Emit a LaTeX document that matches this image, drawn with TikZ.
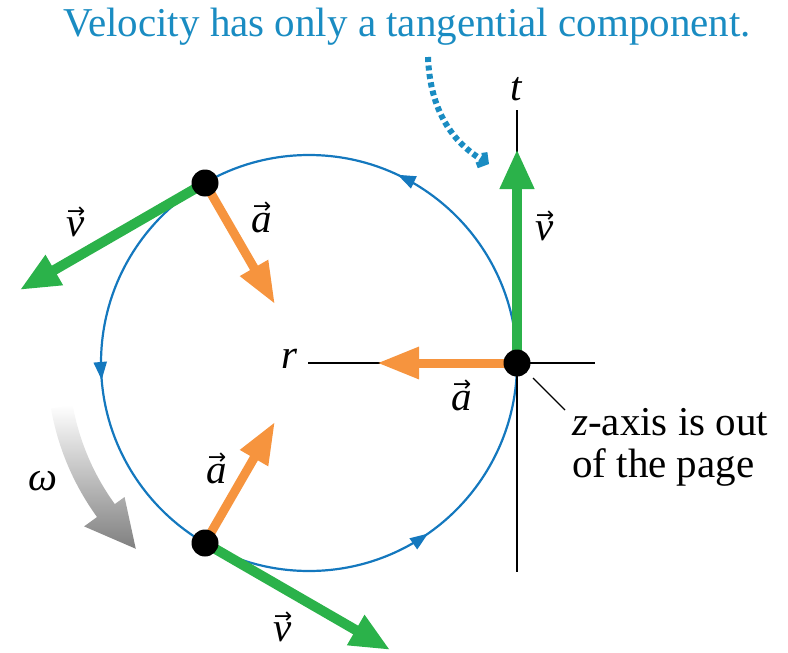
\RequirePackage{fix-cm}
\documentclass[tikz,border=0pt]{standalone}
\usepackage{fontspec}
\setmainfont{Liberation Serif}
\newfontfamily\arrowfont{DejaVu Sans}
\usetikzlibrary{arrows.meta,decorations.markings,calc}
\definecolor{cblue}{HTML}{1478BE}
\definecolor{tblue}{HTML}{1A8CC2}
\definecolor{vgreen}{HTML}{2BB24A}
\definecolor{aorange}{HTML}{F6943E}
\newcommand{\vlab}[1]{\leavevmode\vbox{\offinterlineskip\halign{\hfil##\hfil\cr
  {\arrowfont\fontsize{22}{22}\selectfont →}\cr\noalign{\kern-1pt}\textit{#1}\cr}}}
\begin{document}
\begin{tikzpicture}[x=1pt,y=-1pt,
 lab/.style={font=\fontsize{41}{45}\selectfont, inner sep=0pt, anchor=base},
 vvec/.style={draw=vgreen, line width=10pt, -{Triangle[length=40pt,width=32pt]}},
 avec/.style={draw=aorange, line width=9pt, -{Triangle[length=42pt,width=30pt]}},
 dot/.style={circle, fill=black, minimum size=27pt, inner sep=0pt},
 axisline/.style={draw=black, line width=1.8pt},
 midarrow/.style={postaction={decorate}, decoration={markings,
   mark=at position 0.18 with {\arrow{Triangle[length=18pt,width=13pt]}},
   mark=at position 0.513 with {\arrow{Triangle[length=18pt,width=13pt]}},
   mark=at position 0.847 with {\arrow{Triangle[length=18pt,width=13pt]}}}},
]
\useasboundingbox (0,0) rectangle (788,653);
% omega arrow
\coordinate (C) at (309,363);
\shade[top color=white, bottom color=black!50]
  ([shift={(C)}]170:262) arc[start angle=170,end angle=144,radius=262]
  -- ([shift={(C)}]144:278) -- ([shift={(C)}]133:254) -- ([shift={(C)}]144:228)
  -- ([shift={(C)}]144:240) arc[start angle=144,end angle=170,radius=240] -- cycle;
\node[lab] (om) at (43,490) {\textit{ω}};
% circle
\draw[cblue, line width=2.2pt, midarrow] (517,363) arc[start angle=360,end angle=0,radius=208];
% axes
\coordinate (rl) at (308,363); \coordinate (rr) at (595,363);
\coordinate (tt) at (517,110); \coordinate (tb) at (517,572);
\draw[axisline] (rl) -- (rr);
\draw[axisline] (tt) -- (tb);
\node[lab] (rlab) at (290,368) {\textit{r}};
\node[lab] (tlab) at (517,100) {\textit{t}};
% points
\coordinate (P1) at (517,363);
\coordinate (P2) at (205,183);
\coordinate (P3) at (205,543);
\coordinate (v1) at ($(P1)+(270:214)$);
\coordinate (v2) at ($(P2)+(150:214)$);
\coordinate (v3) at ($(P3)+(30:214)$);
\coordinate (a1) at ($(P1)+(180:140)$);
\coordinate (a2) at ($(P2)+(60:140)$);
\coordinate (a3) at ($(P3)+(-60:140)$);
\draw[vvec] (P1) -- (v1);
\draw[vvec] (P2) -- (v2);
\draw[vvec] (P3) -- (v3);
\draw[avec] (P1) -- (a1);
\draw[avec] (P2) -- (a2);
\draw[avec] (P3) -- (a3);
\node[dot] (d1) at (P1) {};
\node[dot] (d2) at (P2) {};
\node[dot] (d3) at (P3) {};
% vector labels
\node[lab] (vl1) at (545,240) {\vlab{v}};
\node[lab] (vl2) at (76,236) {\vlab{v}};
\node[lab] (vl3) at (283,641) {\vlab{v}};
\node[lab] (al1) at (262,232) {\vlab{a}};
\node[lab] (al2) at (462,410) {\vlab{a}};
\node[lab] (al3) at (217,483) {\vlab{a}};
% z-axis note
\coordinate (z1) at (533,378); \coordinate (z2) at (565,410);
\draw[line width=1.2pt] (z1) -- (z2);
\node[lab, anchor=base west] (zt1) at (572,435) {\textit{z}-axis is out};
\node[lab, anchor=base west] (zt2) at (572,477) {of the page};
% title and dotted arrow
\node[lab, text=tblue] (title) at (407,36) {Velocity has only a tangential component.};
\coordinate (ds) at (428,57); \coordinate (de) at (489,164);
\draw[tblue, line width=6pt, dash pattern=on 5pt off 3.5pt, -{Straight Barb[length=6pt,width=15pt,line width=6pt]}]
  (ds) .. controls (430,110) and (452,142) .. (de);
\end{tikzpicture}
\end{document}
